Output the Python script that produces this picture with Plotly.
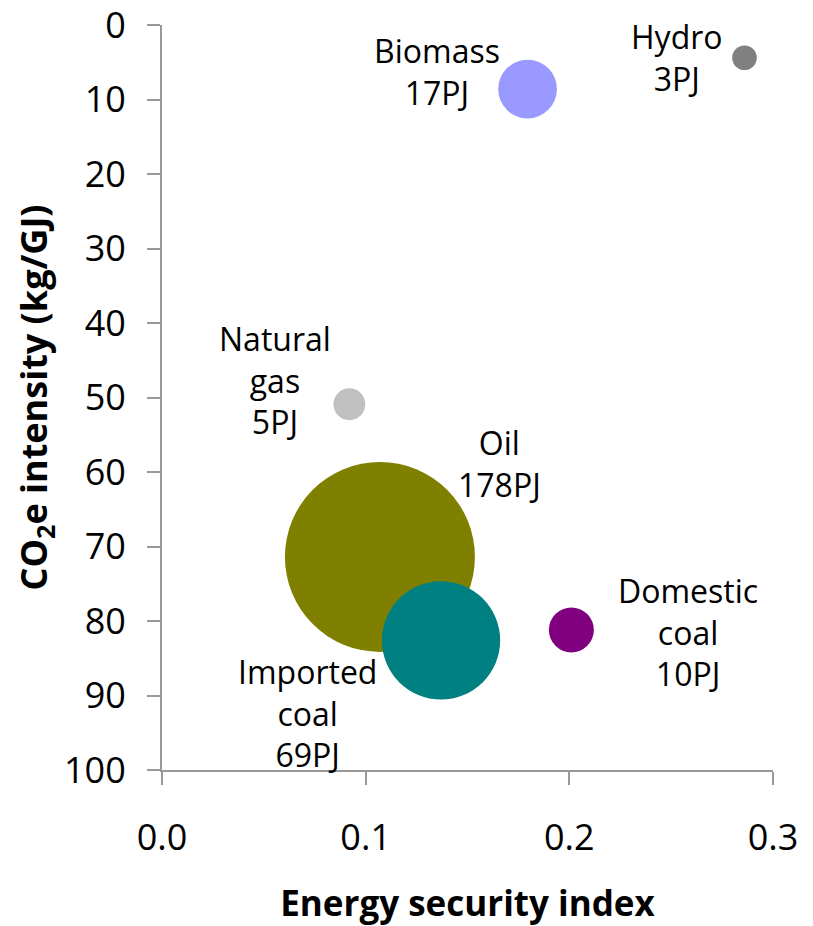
import plotly.graph_objects as go

# Fuel sources: energy security index vs CO2e intensity, bubble area = supply (PJ)
fuels = ["Oil", "Imported coal", "Domestic coal", "Biomass", "Natural gas", "Hydro"]
security_index = [0.107, 0.137, 0.201, 0.1795, 0.092, 0.286]
co2e_intensity = [71.4, 82.6, 81.2, 8.6, 50.9, 4.4]
supply_pj = [178, 69, 10, 17, 5, 3]
label_names = ["Oil", "Imported<br>coal", "Domestic<br>coal", "Biomass", "Natural<br>gas", "Hydro"]

colors = ["#808000", "#008080", "#800080", "#9999FF", "#C0C0C0", "#808080"]
# label offsets in pixels relative to each bubble centre
label_shift = [(120, 93), (-134, -73), (117, -2), (-91, 18), (-74, 24), (-67, 0)]

x_ticks = [0.0, 0.1, 0.2, 0.3]
y_ticks = [0, 10, 20, 30, 40, 50, 60, 70, 80, 90, 100]

FONT = "Open Sans"
max_diam = 190
sizeref = 2.0 * max(supply_pj) / (max_diam ** 2)

fig = go.Figure()
for name, x, y, s, c in zip(fuels, security_index, co2e_intensity, supply_pj, colors):
    fig.add_trace(go.Scatter(
        x=[x], y=[y], mode="markers", name=name,
        marker=dict(size=[s], sizemode="area", sizeref=sizeref, color=c,
                    opacity=1, line=dict(width=0)),
        showlegend=False, hoverinfo="skip",
    ))

for lbl, x, y, s, (dx, dy) in zip(label_names, security_index, co2e_intensity, supply_pj, label_shift):
    fig.add_annotation(
        x=x, y=y, xref="x", yref="y",
        text=f"{lbl}<br>{s}PJ", showarrow=False,
        xshift=dx, yshift=dy, align="center",
        font=dict(family=FONT, size=32, color="#000000"),
    )

axis_common = dict(
    showgrid=False, zeroline=False, showline=True,
    linecolor="#999999", linewidth=2,
    ticks="outside", ticklen=13, tickwidth=2, tickcolor="#999999",
    tickfont=dict(family=FONT, size=36, color="#000000"),
    ticklabeloverflow="allow", automargin=False,
)

fig.update_xaxes(
    range=[0, 0.3], tickvals=x_ticks, ticktext=[f"{v:.1f}" for v in x_ticks],
    ticklabelstandoff=22,
    title=dict(text="<b>Energy security index</b>", standoff=38,
               font=dict(family=FONT, size=35, color="#000000")),
    **axis_common,
)
fig.update_yaxes(
    range=[100, 0], tickvals=y_ticks, ticktext=[str(v) for v in y_ticks],
    ticklabelstandoff=14,
    title=dict(text="<b>CO<sub>2</sub>e intensity (kg/GJ)</b>", standoff=5,
               font=dict(family=FONT, size=36, color="#000000")),
    **axis_common,
)

fig.update_layout(
    width=813, height=926,
    margin=dict(l=162, r=40, t=25, b=156),
    paper_bgcolor="#FFFFFF", plot_bgcolor="#FFFFFF",
    font=dict(family=FONT, color="#000000"),
)

fig.write_html("out.html")
